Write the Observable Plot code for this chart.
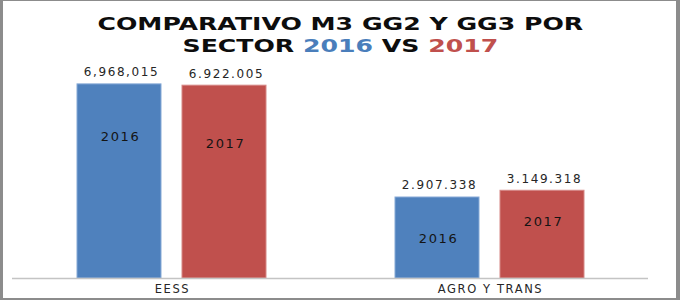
<!DOCTYPE html>
<html>
<head>
<meta charset="utf-8">
<script src="https://cdn.jsdelivr.net/npm/d3@7"></script>
<script src="https://cdn.jsdelivr.net/npm/@observablehq/plot@0.6"></script>
<style>
  html, body { margin: 0; padding: 0; background: #ffffff; }
  #frame {
    position: absolute; left: 0; top: 0; width: 680px; height: 300px;
    box-sizing: border-box; background: #ffffff;
    border-left: 3px solid #8c8c8c; border-top: 1px solid #8c8c8c;
    border-right: 4px solid #8c8c8c; border-bottom: 2px solid #8c8c8c;
  }
  #title {
    position: absolute; left: 0; top: 13px; width: 680px;
    text-align: center; font-family: "DejaVu Sans", sans-serif; font-weight: bold;
    font-size: 18.5px; line-height: 22px; color: #0d0d0d;
    transform: scaleX(1.36); transform-origin: 339px 0;
  }
  #title .y16 { color: #4a7ebb; }
  #title .y17 { color: #c0504d; }
  #chart { position: absolute; left: 0; top: 60px; }
</style>
</head>
<body>
<div id="frame"></div>
<div id="title">COMPARATIVO M3 GG2 Y GG3 POR<br>SECTOR <span class="y16">2016</span> VS <span class="y17">2017</span></div>
<div id="chart"></div>
<script>
const sectors = ["EESS", "AGRO Y TRANS"];
const years = ["2016", "2017"];
const values2016 = [6968015, 2907338];
const values2017 = [6922005, 3149318];
const valueLabels2016 = ["6,968,015", "2.907.338"];
const valueLabels2017 = ["6.922.005", "3.149.318"];

const rows = sectors.flatMap((s, i) => [
  {sector: s, year: years[0], value: values2016[i], label: valueLabels2016[i]},
  {sector: s, year: years[1], value: values2017[i], label: valueLabels2017[i]}
]);

// where the year label sits inside each bar, as a share of the bar's value
const innerAt = {"EESS|2016": 0.73, "EESS|2017": 0.70, "AGRO Y TRANS|2016": 0.49, "AGRO Y TRANS|2017": 0.65};

const fills = {"2016": "#4f81bd", "2017": "#c0504d"};
const strokes = {"2016": "#86a9d6", "2017": "#d68886"};

const barMarks = years.map(yr => Plot.barY(rows.filter(d => d.year === yr), {
  fx: "sector", x: "year", y: "value", fill: fills[yr], stroke: strokes[yr], strokeWidth: 1
}));

const chart = Plot.plot({
  width: 680,
  height: 240,
  marginLeft: 12,
  marginRight: 32,
  marginTop: 23,
  marginBottom: 22,
  style: {background: "transparent", fontFamily: "DejaVu Sans, sans-serif", overflow: "visible", letterSpacing: "1.6px"},
  fx: {domain: sectors, padding: 0, axis: null, label: null},
  x: {domain: years, paddingInner: 0.2, paddingOuter: 0.614, axis: null},
  y: {domain: [0, 7000000], axis: null},
  marks: [
    ...barMarks,
    Plot.ruleY([0], {stroke: "#c4c4c4", strokeWidth: 1.5}),
    Plot.text(rows, {fx: "sector", x: "year", y: "value", text: "label", dy: -12, dx: 2, fontSize: 12, fill: "#262626"}),
    Plot.text(rows, {fx: "sector", x: "year", y: d => d.value * innerAt[d.sector + "|" + d.year], text: "year", dx: 1, fontSize: 13, fill: "#141414"}),
    Plot.text(sectors, {fx: d => d, text: d => d, frameAnchor: "bottom", dy: 14, dx: 1, fontSize: 11.5, fill: "#262626"})
  ]
});
document.getElementById("chart").appendChild(chart);
</script>
</body>
</html>
